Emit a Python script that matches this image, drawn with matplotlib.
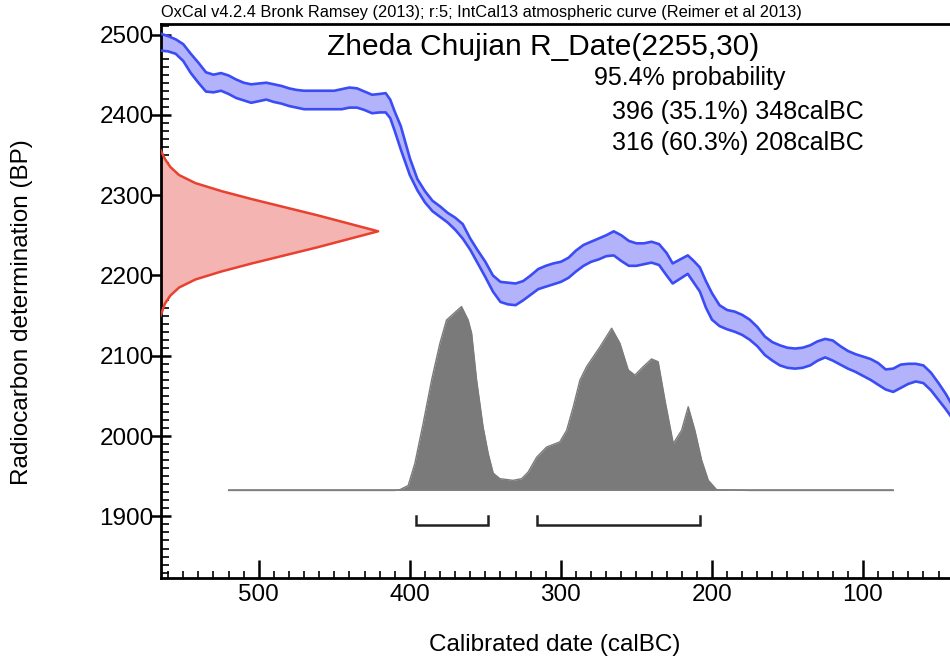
import matplotlib
matplotlib.use("Agg")
import matplotlib.pyplot as plt
import numpy as np
from matplotlib.ticker import MultipleLocator

plt.rcParams['font.family'] = ['Liberation Sans', 'DejaVu Sans']

# ---- IntCal13 calibration band (calBC, upper BP, lower BP) ----
cal = [565, 560, 555, 550, 545, 540, 535, 530, 525, 520, 515, 510, 505, 500, 495, 490,
       485, 480, 475, 470, 465, 460, 455, 450, 445, 440, 435, 430, 425, 420, 416, 413,
       410, 406, 400, 395, 390, 385, 380, 375, 370, 365, 360, 355, 350, 345, 340, 335,
       330, 325, 320, 315, 310, 305, 300, 295, 290, 285, 280, 275, 270, 265, 260, 255,
       250, 245, 240, 235, 230, 226, 221, 216, 212, 208, 204, 200, 195, 190, 185, 180,
       175, 170, 165, 160, 155, 150, 145, 140, 135, 130, 125, 120, 115, 110, 105, 100,
       95, 90, 85, 80, 75, 70, 65, 60, 55, 50, 45, 42]
upper = [2501, 2498, 2494, 2488, 2476, 2465, 2453, 2450, 2452, 2449, 2444, 2440, 2438, 2439, 2440, 2438,
         2436, 2433, 2431, 2430, 2430, 2430, 2430, 2430, 2432, 2434, 2433, 2429, 2425, 2426, 2427, 2419,
         2404, 2386, 2346, 2320, 2305, 2293, 2286, 2278, 2272, 2264, 2246, 2231, 2217, 2200, 2192, 2191,
         2190, 2193, 2200, 2208, 2212, 2215, 2217, 2222, 2231, 2238, 2242, 2246, 2250, 2255, 2250, 2243,
         2240, 2240, 2242, 2239, 2228, 2215, 2220, 2225, 2218, 2210, 2193, 2178, 2163, 2157, 2155, 2151,
         2145, 2136, 2124, 2117, 2113, 2110, 2109, 2110, 2113, 2118, 2121, 2119, 2112, 2106, 2102, 2099,
         2096, 2091, 2083, 2084, 2089, 2090, 2090, 2088, 2079, 2066, 2052, 2042]
lower = [2480, 2479, 2476, 2467, 2452, 2440, 2429, 2428, 2430, 2426, 2421, 2418, 2415, 2417, 2419, 2416,
         2414, 2411, 2409, 2407, 2407, 2407, 2407, 2407, 2407, 2409, 2409, 2406, 2402, 2403, 2403, 2396,
         2380, 2357, 2325, 2306, 2291, 2280, 2273, 2266, 2257, 2246, 2232, 2215, 2198, 2180, 2167, 2164,
         2163, 2169, 2176, 2183, 2186, 2189, 2192, 2197, 2205, 2212, 2217, 2220, 2224, 2225, 2218, 2212,
         2212, 2214, 2216, 2213, 2200, 2190, 2196, 2202, 2191, 2180, 2160, 2145, 2137, 2133, 2130, 2126,
         2120, 2112, 2101, 2094, 2088, 2085, 2084, 2085, 2088, 2094, 2098, 2094, 2089, 2084, 2080, 2075,
         2070, 2064, 2058, 2055, 2060, 2065, 2068, 2066, 2057, 2045, 2033, 2025]

# ---- Radiocarbon date distribution R_Date(2255,30): BP vs relative probability ----
rc_bp = [2356, 2345, 2335, 2325, 2315, 2305, 2295, 2285, 2275, 2265, 2255,
         2245, 2235, 2225, 2215, 2205, 2195, 2185, 2175, 2165, 2150]
rc_prob = [0.0, 0.02, 0.045, 0.085, 0.16, 0.28, 0.42, 0.57, 0.72, 0.86, 1.0,
           0.86, 0.72, 0.57, 0.42, 0.28, 0.16, 0.085, 0.045, 0.02, 0.0]

# ---- Calibrated posterior: calBC vs relative probability ----
post_cal = [520, 410, 406.6, 401.1, 396.7, 391.2, 385.6, 380.1, 375.7, 365.8, 361.4, 359.1,
            355.8, 351.5, 348.1, 344.8, 340.4, 331.6, 326, 321.7, 316.1, 309.5, 300.7,
            296.2, 291.8, 287.4, 283, 274.2, 266.4, 260.9, 255.4, 251, 245.5, 240, 235.6,
            231.1, 225.6, 220.1, 215.7, 211.3, 206.8, 202.4, 196.9, 185, 175, 80]
post_prob = [0.0, 0.0, 0.004, 0.027, 0.146, 0.364, 0.60, 0.80, 0.927, 1.0, 0.927, 0.855,
             0.60, 0.345, 0.20, 0.094, 0.064, 0.055, 0.064, 0.10, 0.18, 0.236, 0.264,
             0.327, 0.455, 0.60, 0.673, 0.78, 0.882, 0.80, 0.655, 0.627, 0.673, 0.715, 0.70,
             0.49, 0.255, 0.327, 0.455, 0.327, 0.164, 0.055, 0.004, 0.002, 0.0, 0.0]

# ---- 95.4% ranges ----
range_start = [396, 316]
range_end = [348, 208]

title = "Zheda Chujian R_Date(2255,30)"
prob_label = "95.4% probability"
range_labels = ["396 (35.1%) 348calBC", "316 (60.3%) 208calBC"]
header = "OxCal v4.2.4 Bronk Ramsey (2013); r:5; IntCal13 atmospheric curve (Reimer et al 2013)"

# ---- style / layout ----
W, H = 950, 662
fig = plt.figure(figsize=(W / 100, H / 100), dpi=100)
ax_l, ax_b, ax_t = 160.6, 578.0, 23.6
ax = fig.add_axes([ax_l / W, 1 - ax_b / H, 1 - ax_l / W, (ax_b - ax_t) / H])
x_left, x_right = 565, 42.4
ax.set_xlim(x_left, x_right)
ax.set_ylim(1823.3, 2513.6)

band_fill = '#b3b3fb'
band_line = '#3b4cf6'
ax.fill_between(cal, lower, upper, color=band_fill, lw=0, zorder=2)
ax.plot(cal, upper, color=band_line, lw=1.9, zorder=3)
ax.plot(cal, lower, color=band_line, lw=1.9, zorder=3)

rc_scale = 144.0
rc_x = x_left - np.array(rc_prob) * rc_scale
ax.fill_betweenx(rc_bp, x_left, rc_x, color='#f4b4b2', lw=0, zorder=2)
ax.plot(rc_x, rc_bp, color='#e8412f', lw=1.8, zorder=3)

base = 1932.3
post_scale = 229.0
post_top = base + np.array(post_prob) * post_scale
ax.fill_between(post_cal, base, post_top, color='#7a7a7a', lw=0, zorder=2)
ax.plot(post_cal, post_top, color='#7a7a7a', lw=1.0, zorder=2)
ax.plot([post_cal[0], post_cal[-1]], [base, base], color='#808080', lw=1.2, zorder=2)

br_y, br_top = 1889.5, 1900.5
for s, e in zip(range_start, range_end):
    ax.plot([s, s, e, e], [br_top, br_y, br_y, br_top], color='#222222', lw=1.8,
            solid_joinstyle='miter', zorder=3)

for side in ['left', 'bottom', 'top']:
    ax.spines[side].set_linewidth(2)
ax.spines['right'].set_visible(False)
ax.xaxis.set_major_locator(MultipleLocator(100))
ax.xaxis.set_minor_locator(MultipleLocator(10))
ax.yaxis.set_major_locator(MultipleLocator(100))
ax.yaxis.set_minor_locator(MultipleLocator(10))
ax.tick_params(axis='x', which='major', direction='in', length=13, width=1.8,
               labelsize=17.5, pad=4)
ax.tick_params(axis='x', which='minor', direction='in', length=5, width=1.2)
ax.tick_params(axis='y', which='major', direction='inout', length=14, width=1.8,
               labelsize=17.5, pad=-2)
ax.tick_params(axis='y', which='minor', direction='in', length=6, width=1.2)
ax.tick_params(top=False, right=False, which='both')

ax_w, ax_h = W - ax_l, ax_b - ax_t
ax.set_xlabel("Calibrated date (calBC)", fontsize=17.5, va='center')
ax.xaxis.set_label_coords((555 - ax_l) / ax_w, (ax_b - 645) / ax_h)
ax.set_ylabel("Radiocarbon determination (BP)", fontsize=17.5, va='center')
ax.yaxis.set_label_coords((22 - ax_l) / ax_w, (ax_b - 312) / ax_h)

fig.text(ax_l / W, 1 - 13 / H, header, fontsize=11.8, ha='left', va='center')
fig.text(543 / W, 1 - 47 / H, title, fontsize=21.5, ha='center', va='center')
fig.text(690 / W, 1 - 78 / H, prob_label, fontsize=18, ha='center', va='center')
fig.text(737.5 / W, 1 - 112 / H, range_labels[0], fontsize=18, ha='center', va='center')
fig.text(737.5 / W, 1 - 143 / H, range_labels[1], fontsize=18, ha='center', va='center')

fig.savefig("out.png", dpi=100)
